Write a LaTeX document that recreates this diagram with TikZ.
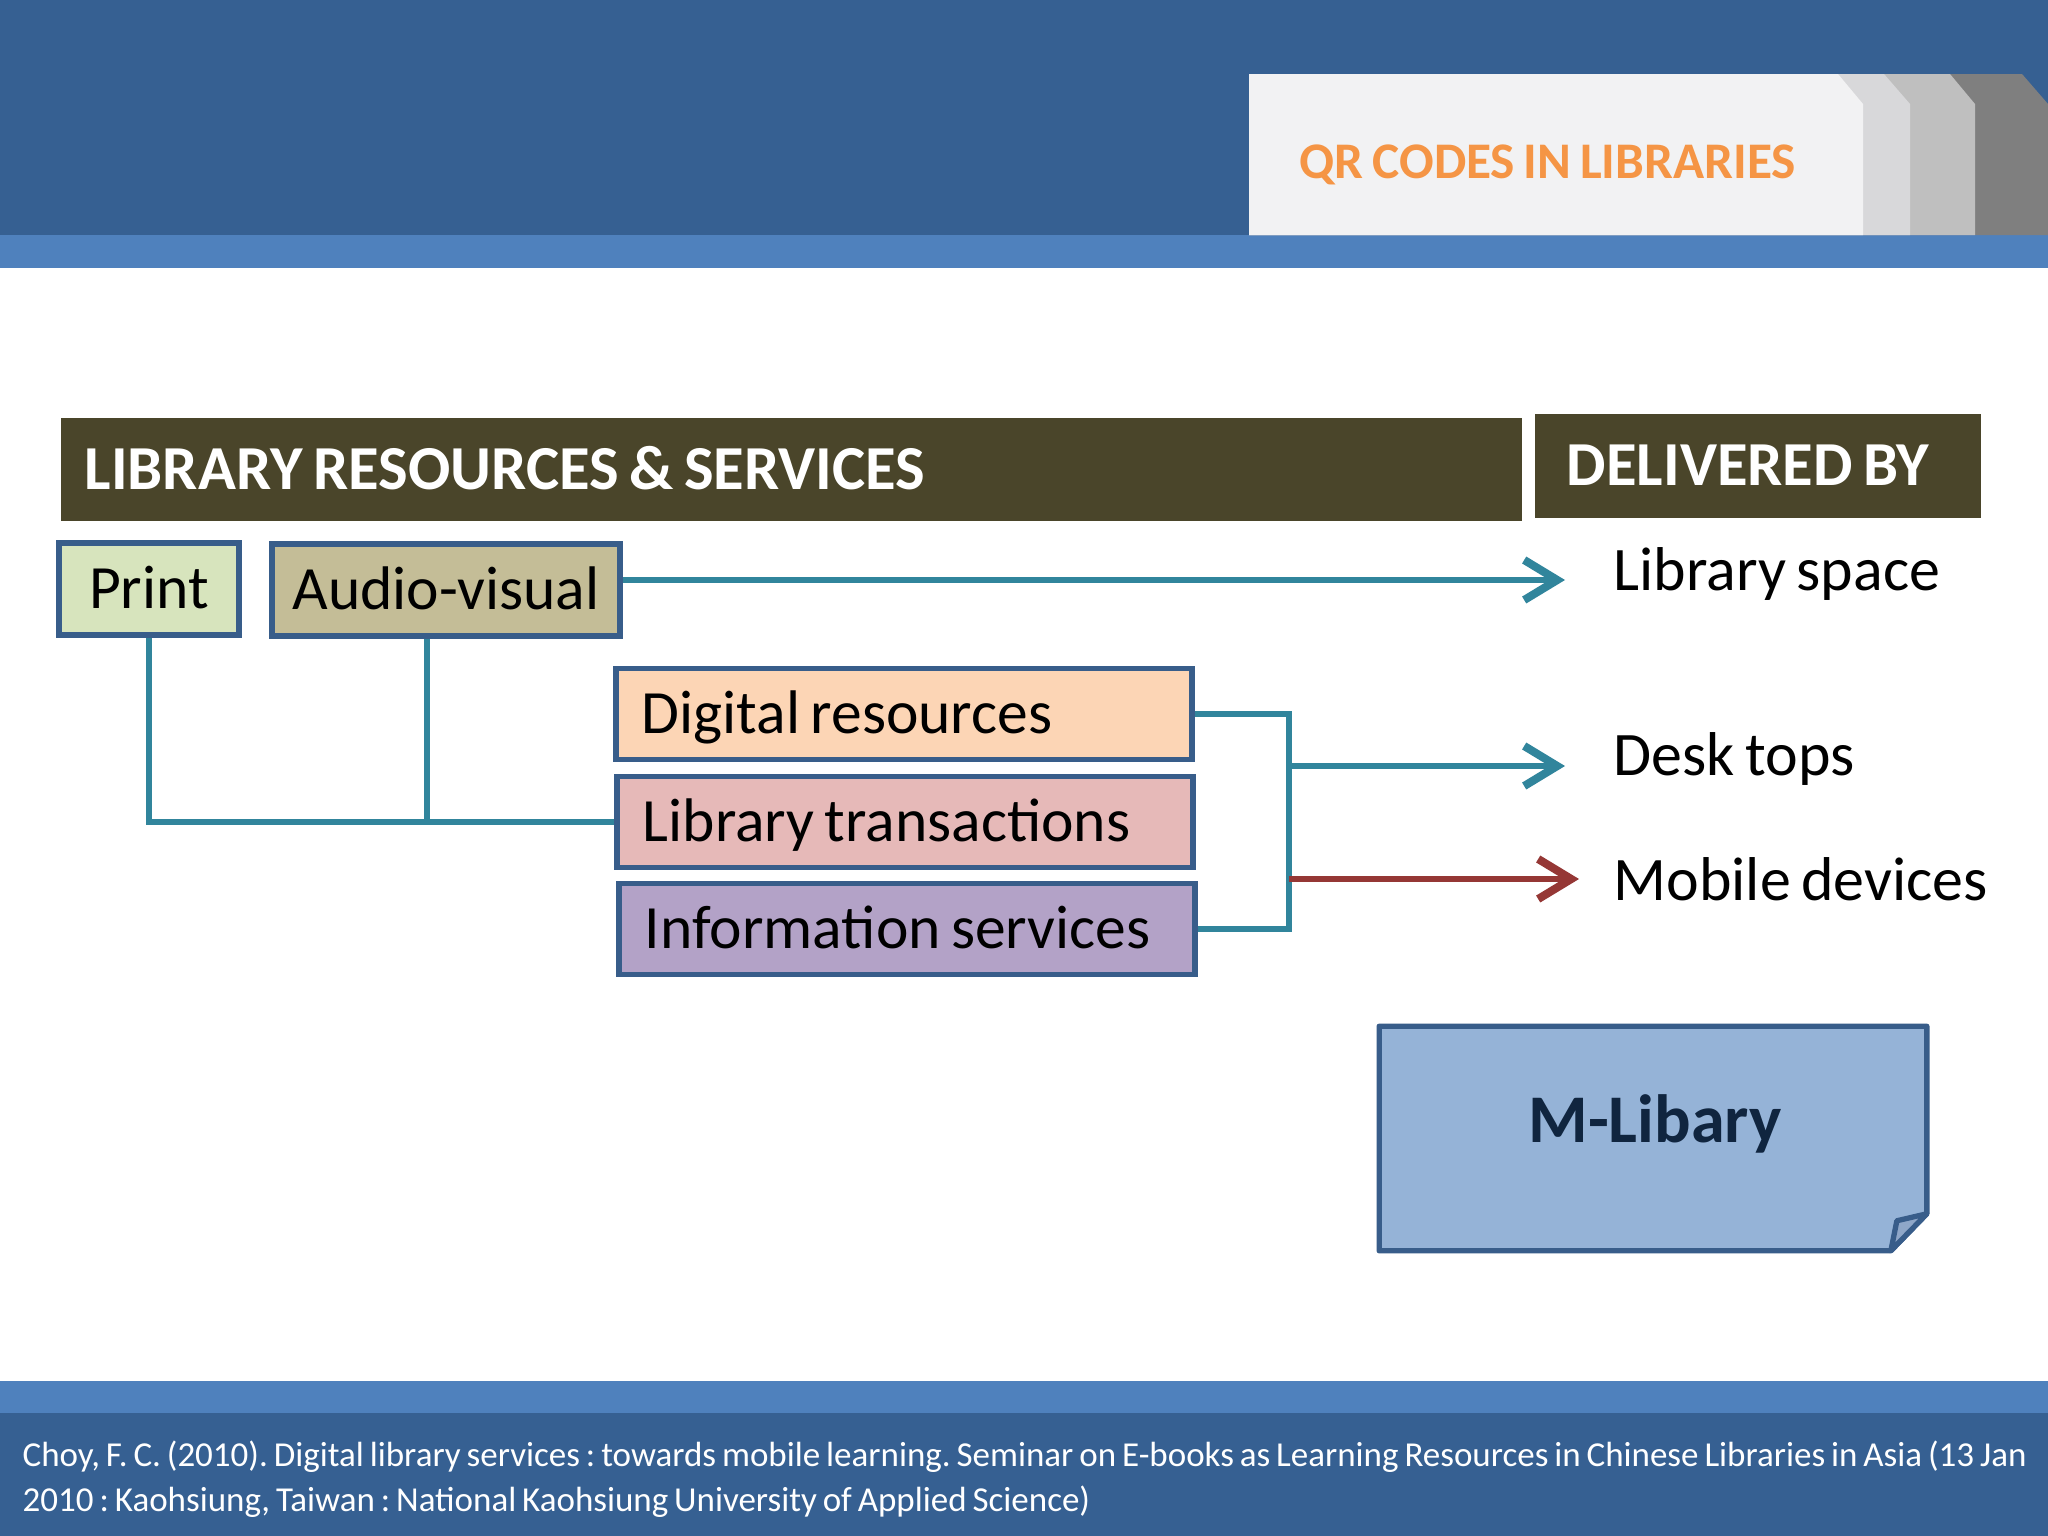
\documentclass[tikz,border=0pt]{standalone}
\usepackage{fontspec}
\setmainfont{Carlito}[WordSpace=0.75]
\frenchspacing
\usetikzlibrary{arrows.meta,positioning}
\definecolor{slideblue}{HTML}{366092}
\definecolor{stripeblue}{HTML}{4F81BD}
\definecolor{tablight}{HTML}{F2F2F3}
\definecolor{tabgreyA}{HTML}{D8D8DA}
\definecolor{tabgreyB}{HTML}{BFBFBF}
\definecolor{tabgreyC}{HTML}{7F7F7F}
\definecolor{titleorange}{HTML}{F59545}
\definecolor{olivebar}{HTML}{4A452A}
\definecolor{boxline}{HTML}{385D8A}
\definecolor{printfill}{HTML}{D7E4BD}
\definecolor{avfill}{HTML}{C4BD97}
\definecolor{digitalfill}{HTML}{FCD5B5}
\definecolor{transfill}{HTML}{E6B9B8}
\definecolor{infofill}{HTML}{B3A2C7}
\definecolor{linkteal}{HTML}{31859C}
\definecolor{mobilered}{HTML}{953735}
\definecolor{mlibfill}{HTML}{95B3D7}
\definecolor{foldfill}{HTML}{8FA7C8}
\definecolor{mlibtext}{HTML}{10253F}

\begin{document}
\begin{tikzpicture}[
  x=0.01cm, y=-0.01cm,
  headbar/.style={fill=olivebar, text=white, font=\fontsize{17.8}{20}\selectfont\bfseries, align=left, inner xsep=0.24cm, text height=11.25pt, text depth=0pt, minimum height=1.03cm, execute at begin node={\spaceskip=0pt\xspaceskip=0pt}},
  source/.style={draw=boxline, line width=1.6pt, font=\fontsize{17.5}{20}\selectfont, align=center, inner sep=0pt, text height=11.06pt, text depth=0pt, minimum height=0.92cm},
  service/.style={draw=boxline, line width=1.6pt, font=\fontsize{17.5}{20}\selectfont, align=left, inner xsep=0.26cm, inner ysep=0pt, text width=5.24cm, text height=11.06pt, text depth=0pt, minimum height=0.91cm, execute at begin node={\spaceskip=0pt\xspaceskip=0pt}},
  channel/.style={anchor=west, inner sep=0pt, font=\fontsize{17.6}{20}\selectfont, text height=11.1pt, text depth=0pt},
  link/.style={draw=linkteal, line width=1.6pt},
  arrow/.style={link, -{Straight Barb[length=3.3mm, width=4mm, line width=2.3pt]}},
  redarrow/.style={arrow, draw=mobilered}
]
\useasboundingbox (0,0) rectangle (2048,1536);
\fill[white] (0,0) rectangle (2048,1536);

\fill[slideblue] (0,0) rectangle (2048,235);
\fill[stripeblue] (0,235) rectangle (2048,268);
\fill[tabgreyC] (1249,74) -- (2022,74) -- (2048,104) -- (2048,235) -- (1249,235) -- cycle;
\fill[tabgreyB] (1249,74) -- (1950,74) -- (1975,104) -- (1975,235) -- (1249,235) -- cycle;
\fill[tabgreyA] (1249,74) -- (1884,74) -- (1910,104) -- (1910,235) -- (1249,235) -- cycle;
\fill[tablight] (1249,74) -- (1838,74) -- (1863,104) -- (1863,235) -- (1249,235) -- cycle;
\node[anchor=west, inner sep=0pt, text=titleorange, font=\fontsize{14.6}{16}\selectfont\bfseries, text height=9.2pt, text depth=0pt] (title) at (1299,162) {QR CODES IN LIBRARIES};

\fill[stripeblue] (0,1381) rectangle (2048,1413);
\fill[slideblue] (0,1413) rectangle (2048,1536);
\node[anchor=west, inner sep=0pt, text=white, align=left, font=\fontsize{9.95}{12.8}\selectfont, execute at begin node={\spaceskip=0pt\xspaceskip=0pt}] (cite) at (22,1479) {Choy, F. C. (2010). Digital library services : towards mobile learning. Seminar on E-books as Learning Resources in Chinese Libraries in Asia (13 Jan\\2010 : Kaohsiung, Taiwan : National Kaohsiung University of Applied Science)};

\node[headbar, text width=14.13cm] (resbar) at (791.5,469.5) {LIBRARY RESOURCES \& SERVICES};
\node[headbar, text width=3.82cm, inner xsep=0.32cm] (delbar) at (1758,466) {DELIVERED BY};

\node[source, fill=printfill, minimum width=1.80cm] (print) at (149,589) {Print};
\node[source, fill=avfill, minimum width=3.48cm] (av) at (446,590) {Audio-visual};
\node[service, fill=digitalfill] (digital) at (904,714) {Digital resources};
\node[service, fill=transfill] (trans) at (905,822) {Library transactions};
\node[service, fill=infofill] (info) at (907,929) {Information services};

\node[channel] (space) at (1613,571) {Library space};
\node[channel] (desk) at (1613,756) {Desk tops};
\node[channel] (mobile) at (1613,881) {Mobile devices};

\coordinate (avdrop) at ([xshift=-1.9mm]av.south);
\coordinate (joint) at (1289,820);
\coordinate (tipspace) at (1565,580);
\coordinate (tipdesk) at (1565,766);
\coordinate (tipmobile) at (1579,879);

\draw[link] (print.south) |- (trans.west);
\draw[link] (avdrop) -- (avdrop |- trans.west);
\draw[link] (digital.east) -| (joint) |- (info.east);
\draw[arrow] (av.east |- tipspace) -- (tipspace);
\draw[arrow] (joint |- tipdesk) -- (tipdesk);
\draw[redarrow] (joint |- tipmobile) -- (tipmobile);

\node[minimum width=5.46cm, minimum height=2.23cm, inner sep=0pt] (mlib) at (1653,1138.5) {};
\draw[draw=boxline, fill=mlibfill, line width=1.5pt, line join=round] (mlib.north west) -- (mlib.north east) -- ([yshift=3.7mm]mlib.south east) -- ([xshift=-3.6mm]mlib.south east) -- (mlib.south west) -- cycle;
\draw[draw=boxline, fill=foldfill, line width=1.5pt, line join=round] ([yshift=3.7mm]mlib.south east) -- ([xshift=-3.0mm, yshift=3.0mm]mlib.south east) -- ([xshift=-3.6mm]mlib.south east) -- cycle;
\node[inner sep=0pt, text=mlibtext, font=\fontsize{19.4}{22}\selectfont\bfseries, text height=12.3pt, text depth=0pt] (mlabel) at (1655,1121) {M-Libary};
\end{tikzpicture}
\end{document}
